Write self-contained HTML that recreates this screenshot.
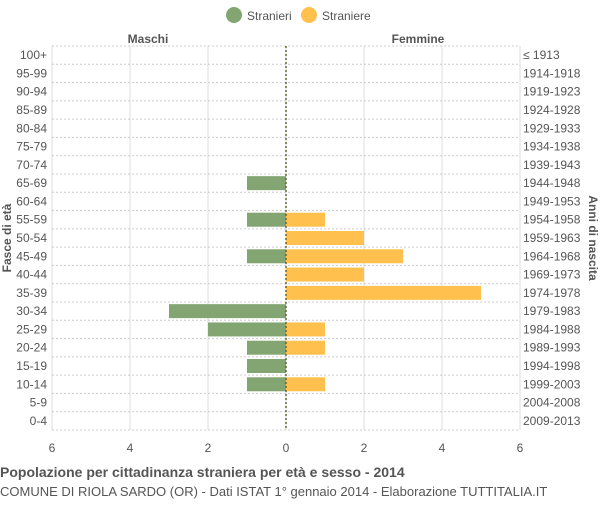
<!DOCTYPE html>
<html><head><meta charset="utf-8"><style>
body{margin:0;background:#fff;font-family:"Liberation Sans",sans-serif}
svg text{font-family:"Liberation Sans",sans-serif}
</style></head><body>
<svg id="c" width="600" height="500" viewBox="0 0 600 500"></svg>
<script>
const ages=["100+","95-99","90-94","85-89","80-84","75-79","70-74","65-69","60-64","55-59","50-54","45-49","40-44","35-39","30-34","25-29","20-24","15-19","10-14","5-9","0-4"];
const births=["≤ 1913","1914-1918","1919-1923","1924-1928","1929-1933","1934-1938","1939-1943","1944-1948","1949-1953","1954-1958","1959-1963","1964-1968","1969-1973","1974-1978","1979-1983","1984-1988","1989-1993","1994-1998","1999-2003","2004-2008","2009-2013"];
const males=[0,0,0,0,0,0,0,1,0,1,0,1,0,0,3,2,1,1,1,0,0];
const females=[0,0,0,0,0,0,0,0,0,1,2,3,2,5,0,1,1,0,1,0,0];
const xTicks=[-6,-4,-2,0,2,4,6];
const NS="http://www.w3.org/2000/svg";
const svg=document.getElementById('c');
const L=52,R=520,C=286,T=46,B=430,maxV=6;
const x=v=>C+v*(R-C)/maxV;
const rowH=(B-T)/ages.length;
const y=i=>T+i*rowH;
function mk(t,a,txt){const e=document.createElementNS(NS,t);for(const k in a)e.setAttribute(k,a[k]);if(txt!==undefined)e.textContent=txt;svg.appendChild(e);return e;}
// grid
xTicks.forEach(v=>{
 const g=mk('line',{x1:x(v),x2:x(v),y1:T,y2:B,stroke:'#dddddd','stroke-width':1});
 
 
 const t=mk('text',{x:x(v),y:452,'text-anchor':'middle','font-size':12,fill:'#555'},String(Math.abs(v)));
 
 
});
for(let i=0;i<=ages.length;i++){
 const g=mk('line',{x1:L,x2:R,y1:y(i),y2:y(i),stroke:'#cccccc','stroke-dasharray':'2,2','stroke-width':1});
 
 
}
ages.forEach((a,i)=>{
 const cy=y(i)+rowH/2;
 const t=mk('text',{x:47,y:cy+4,'text-anchor':'end','font-size':12,fill:'#555'},a);
 
 
 const t2=mk('text',{x:523,y:cy+4,'font-size':12,fill:'#555'},births[i]);
 
 
 if(males[i]>0){
  const r=mk('rect',{x:x(-males[i]),y:cy-7,width:x(0)-x(-males[i]),height:14,fill:'#82a571'});
  
  
 }
 if(females[i]>0){
  const r=mk('rect',{x:x(0),y:cy-7,width:x(females[i])-x(0),height:14,fill:'#ffc04d'});
  
  
 }
});
const cl=mk('line',{x1:C,x2:C,y1:T,y2:B,stroke:'#666633','stroke-dasharray':'2,2','stroke-width':1.5});


</script>
<div style="position:absolute;left:0;top:0;width:600px;height:500px;pointer-events:none">
 <svg width="600" height="500" style="position:absolute;left:0;top:0">
  <circle cx="234" cy="15" r="8" fill="#82a571"/>
  <text x="247" y="20" font-size="12" fill="#555">Stranieri</text>
  <circle cx="309" cy="15" r="8" fill="#ffc04d"/>
  <text x="322" y="20" font-size="12" fill="#555">Straniere</text>
  <text x="148" y="43" font-size="12" font-weight="bold" fill="#555" text-anchor="middle">Maschi</text>
  <text x="418" y="43" font-size="12" font-weight="bold" fill="#555" text-anchor="middle">Femmine</text>
  <text transform="translate(11,238) rotate(-90)" font-size="12" font-weight="bold" fill="#555" text-anchor="middle">Fasce di età</text>
  <text transform="translate(589,238) rotate(90)" font-size="12" font-weight="bold" fill="#555" text-anchor="middle">Anni di nascita</text>
  <text x="0" y="477" font-size="14" font-weight="bold" fill="#555">Popolazione per cittadinanza straniera per età e sesso - 2014</text>
  <text x="0" y="496" font-size="13" fill="#555">COMUNE DI RIOLA SARDO (OR) - Dati ISTAT 1° gennaio 2014 - Elaborazione TUTTITALIA.IT</text>
 </svg>
</div>
</body></html>
